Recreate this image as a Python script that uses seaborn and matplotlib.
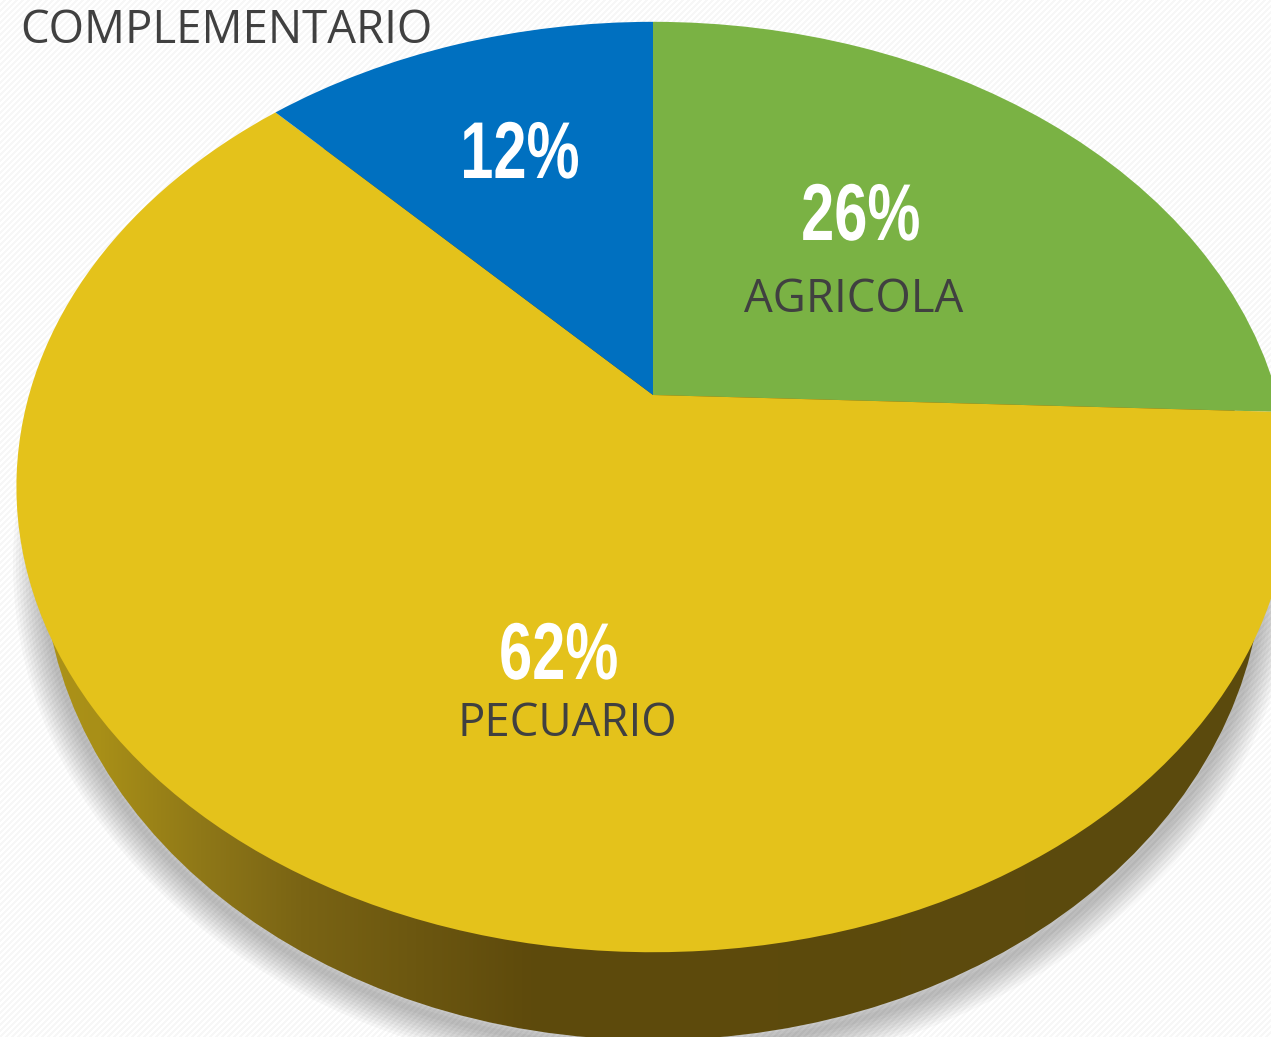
import numpy as np
import matplotlib
matplotlib.use("Agg")
import matplotlib.pyplot as plt
from matplotlib.transforms import Transform, Affine2D
from matplotlib.patches import Ellipse
from matplotlib.text import Text
from matplotlib.textpath import TextPath
from matplotlib.font_manager import FontProperties
import seaborn as sns

categories = ["AGRICOLA", "PECUARIO", "COMPLEMENTARIO"]
values = [25.6, 62.25, 12.15]
colors = ["#7AB244", "#E4C21B", "#0070C0"]
percent_labels = ["26%", "62%", "12%"]

W, H = 1271, 1037
sns.set_theme(style="white")
plt.rcParams['font.family'] = ['Open Sans', 'DejaVu Sans']


class Perspective(Transform):
    """Unit circle seen in perspective: circle centre lands on the pie apex."""
    input_dims = output_dims = 2

    def __init__(self, cx=653., cy=395., sx=624., sy=447., d=0.1978):
        super().__init__()
        self.cx, self.cy, self.sx, self.sy, self.d = cx, cy, sx, sy, d

    def transform_non_affine(self, v):
        v = np.asarray(v, float)
        w = 1 + self.d * v[:, 1]
        return np.column_stack([self.cx + self.sx * v[:, 0] / w,
                                self.cy - self.sy * v[:, 1] / w])


class CondensedText(Text):
    """A text artist drawn horizontally squeezed, like a condensed bold face."""
    squeeze = 0.74

    def draw(self, renderer):
        if not self.get_visible():
            return
        fp = FontProperties(family="Liberation Sans", weight="bold")
        tp = TextPath((0, 0), self.get_text(), size=100, prop=fp)
        px = self.get_fontsize() * self.figure.dpi / 72 / 100
        x0, x1 = tp.get_extents().x0, tp.get_extents().x1
        px_x, px_y = self.get_transform().transform(self.get_position())
        tr = (Affine2D().translate(-(x0 + x1) / 2, 0)
              .scale(px * self.squeeze, px).translate(px_x, px_y))
        gc = renderer.new_gc()
        gc.set_linewidth(0)
        renderer.draw_path(gc, tp, tr, matplotlib.colors.to_rgb(self.get_color()))
        gc.restore()


fig = plt.figure(figsize=(W / 100, H / 100), dpi=100)
ax = fig.add_axes([0, 0, 1, 1])

# faint diagonal hatch of the slide background
yy, xx = np.mgrid[0:H, 0:W]
hatch = np.where(((xx + yy) % 6) < 3, 1.0, 0.965)
ax.imshow(hatch, cmap="gray", vmin=0, vmax=1, extent=(0, W, H, 0), zorder=0, aspect="auto")

# soft shadow beneath the disc
for lw in np.arange(60, 0, -6):
    ax.add_patch(Ellipse((653, 564), 1220, 968, fill=False, ec="black", lw=lw * 0.72, alpha=0.026, zorder=1))

# shaded rim
rim = Ellipse((653, 556), 1220, 968, fc="none", ec="none", zorder=2)
ax.add_patch(rim)
stops_x = [0, 100, 200, 300, 530, W]
stops_rgb = np.array([[0xB0, 0x95, 0x18], [0xA8, 0x8F, 0x17], [0x8F, 0x78, 0x18],
                      [0x7A, 0x64, 0x14], [0x5E, 0x4A, 0x0C], [0x5B, 0x4A, 0x0E]]) / 255
grad = np.stack([np.interp(np.arange(W), stops_x, stops_rgb[:, c]) for c in range(3)], axis=-1)[None, :, :]
img = ax.imshow(grad, extent=(0, W, H, 0), zorder=2, aspect="auto")
img.set_clip_path(rim)

# top face
wedges, _ = ax.pie(values, colors=sns.color_palette(colors), startangle=90,
                   counterclock=False, frame=True, wedgeprops=dict(linewidth=0, zorder=3))
persp = Perspective()
for w in wedges:
    w.set_transform(persp + ax.transData)
ax.set_aspect("auto")
ax.set_xlim(0, W)
ax.set_ylim(H, 0)
ax.axis("off")

# labels
txt = "#404040"
label_pos = [(744, 312), (457, 736), (20, 43)]
for name, (x, y) in zip(categories, label_pos):
    ax.text(x, y, name, color=txt, fontsize=32.8, ha="left", va="baseline", zorder=5)
pct_pos = [(861, 240), (559, 679), (521, 178)]
for lab, (x, y) in zip(percent_labels, pct_pos):
    t = CondensedText(x, y, lab, color="white", fontsize=58, ha="center", va="baseline", zorder=5)
    ax.add_artist(t)

fig.savefig("out.png", dpi=100)
